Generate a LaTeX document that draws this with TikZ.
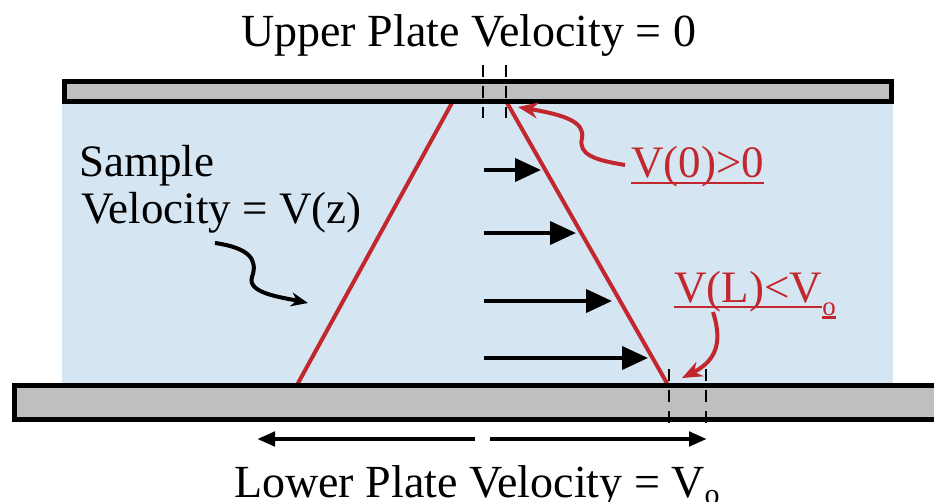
\documentclass[tikz,border=0pt]{standalone}
\usepackage{fontspec}
\setmainfont{Liberation Serif}
\usetikzlibrary{arrows.meta}
\definecolor{fluid}{RGB}{214,229,242}
\definecolor{plate}{RGB}{191,191,191}
\definecolor{vred}{RGB}{193,39,45}
\begin{document}
\begin{tikzpicture}[x=1pt,y=-1pt,
  platebox/.style={fill=plate,draw=black,line width=5pt},
  profile/.style={draw=vred,line width=4pt},
  flowarrow/.style={draw=black,line width=4pt,-{Triangle[length=26pt,width=23pt]}},
  platearrow/.style={draw=black,line width=4.5pt,-{Triangle[length=18pt,width=14pt]}},
  guide/.style={draw=black,line width=2.5pt,dash pattern=on 12pt off 9pt},
  redcallout/.style={draw=vred,line width=4pt,-{Stealth[length=20pt,width=16pt]}},
  blackcallout/.style={draw=black,line width=4pt,-{Stealth[length=17pt,width=14pt]}},
  bigtext/.style={inner sep=0pt,anchor=base west,font=\fontsize{46}{50}\selectfont},
  midtext/.style={inner sep=0pt,anchor=base west,font=\fontsize{45}{50}\selectfont},
  uline/.style={draw=vred,line width=2.2pt}]
\useasboundingbox (0,0) rectangle (934,501);
% fluid
\fill[fluid] (62,103) rectangle (893,384);
% velocity profiles
\coordinate (ltop) at (453,101);
\coordinate (lbot) at (297,385);
\coordinate (rtop) at (506,101);
\coordinate (rbot) at (668,385);
\draw[profile] (ltop) -- (lbot);
\draw[profile] (rtop) -- (rbot);
% plates
\draw[platebox] (64.5,81.5) rectangle (891.5,101.5);
\draw[platebox] (14.5,385.5) rectangle (945,419.5);
% guides
\coordinate (g1a) at (483,65);  \coordinate (g1b) at (483,118);
\coordinate (g2a) at (506,65);  \coordinate (g2b) at (506,118);
\coordinate (g3a) at (669,369); \coordinate (g3b) at (669,427);
\coordinate (g4a) at (706,369); \coordinate (g4b) at (706,427);
\draw[guide] (g1a) -- (g1b);
\draw[guide] (g2a) -- (g2b);
\draw[guide] (g3a) -- (g3b);
\draw[guide] (g4a) -- (g4b);
% flow arrows
\coordinate (f1a) at (484,170); \coordinate (f1b) at (541,170);
\coordinate (f2a) at (484,233); \coordinate (f2b) at (576,233);
\coordinate (f3a) at (484,301); \coordinate (f3b) at (612,301);
\coordinate (f4a) at (484,358); \coordinate (f4b) at (648,358);
\draw[flowarrow] (f1a) -- (f1b);
\draw[flowarrow] (f2a) -- (f2b);
\draw[flowarrow] (f3a) -- (f3b);
\draw[flowarrow] (f4a) -- (f4b);
% lower plate arrows
\coordinate (pa) at (475,439); \coordinate (pb) at (257,439);
\coordinate (pc) at (490,439); \coordinate (pd) at (707,439);
\draw[platearrow] (pa) -- (pb);
\draw[platearrow] (pc) -- (pd);
% texts
\node[bigtext] (upper) at (241,46) {Upper Plate Velocity = 0};
\node[bigtext] (lower) at (234,497) {Lower Plate Velocity = V\raisebox{-7pt}{\fontsize{30}{30}\selectfont o}};
\node[midtext] (sampleA) at (79,176) {Sample};
\node[midtext] (sampleB) at (81,223) {Velocity = V(z)};
\node[midtext,text=vred] (vzero) at (631,177) {V(0)>0};
\draw[uline] ([yshift=-6pt]vzero.base west) -- ([yshift=-6pt]vzero.base east);
\node[midtext,text=vred] (vl) at (674,302) {V(L)<V};
\node[inner sep=0pt,anchor=base west,text=vred,font=\fontsize{27}{30}\selectfont] (vlo) at ([yshift=-13pt]vl.base east) {o};
\draw[uline] ([yshift=-5pt]vl.base west) -- ([yshift=-5pt]vl.base east);
\draw[uline] ([yshift=-2.5pt]vlo.base west) -- ([yshift=-2.5pt]vlo.base east);
% callouts
\coordinate (zt) at (215,243);
\coordinate (zh) at (308,303);
\draw[blackcallout] (zt) .. controls (250,248) and (258,260) .. (252,277) .. controls (247,293) and (280,297) .. (zh);
\coordinate (v0t) at (625,165);
\coordinate (v0h) at (518,107);
\draw[redcallout] (v0t) .. controls (595,160) and (578,155) .. (582,138) .. controls (585,122) and (565,115) .. (v0h);
\coordinate (vlt) at (713,312);
\coordinate (vlh) at (682,378);
\draw[redcallout] (vlt) .. controls (722,340) and (718,360) .. (vlh);
\end{tikzpicture}
\end{document}
